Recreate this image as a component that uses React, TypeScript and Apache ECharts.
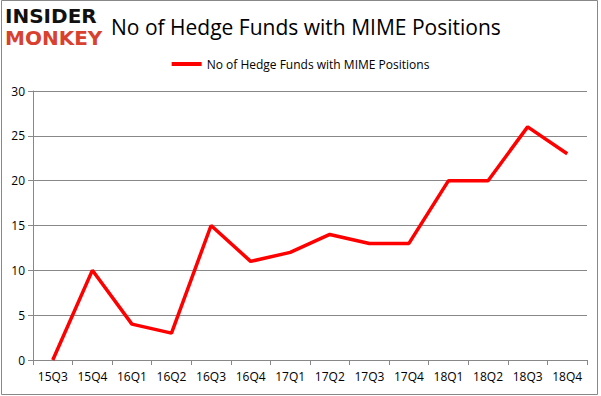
import React, { useEffect, useRef } from "react";
import * as echarts from "echarts";

const categories = ["15Q3", "15Q4", "16Q1", "16Q2", "16Q3", "16Q4", "17Q1", "17Q2", "17Q3", "17Q4", "18Q1", "18Q2", "18Q3", "18Q4"];
const hedgeFunds = [0, 10, 4, 3, 15, 11, 12, 14, 13, 13, 20, 20, 26, 23];
const seriesName = "No of Hedge Funds with MIME Positions";
const titleText = "No of Hedge Funds with MIME Positions";

export default function App() {
  const ref = useRef<HTMLDivElement>(null);
  useEffect(() => {
    const chart = echarts.init(ref.current!, null, { renderer: "svg" });
    const font = "'Open Sans', 'Noto Sans', sans-serif";
    chart.setOption({
      animation: false,
      backgroundColor: "#ffffff",
      title: {
        text: titleText,
        left: 106,
        top: 11,
        textStyle: { fontSize: 21, fontWeight: "normal", color: "#000", fontFamily: font },
      },
      legend: {
        top: 53,
        left: "center",
        itemWidth: 30,
        itemHeight: 4,
        icon: "rect",
        textStyle: { fontSize: 12, color: "#000", fontFamily: font },
        data: [{ name: seriesName, itemStyle: { color: "#ff0000" } }],
      },
      grid: { left: 33, right: 14, top: 91, bottom: 36 },
      xAxis: {
        type: "category",
        data: categories,
        boundaryGap: true,
        axisLine: { lineStyle: { color: "#888", width: 1 } },
        axisTick: { show: true, alignWithLabel: false, length: 5, lineStyle: { color: "#888" } },
        axisLabel: { color: "#000", fontSize: 12, fontFamily: font, margin: 10, interval: 0 },
      },
      yAxis: {
        type: "value",
        min: 0,
        max: 30,
        interval: 5,
        axisLine: { show: true, lineStyle: { color: "#888", width: 1 } },
        axisTick: { show: true, length: 5, lineStyle: { color: "#888" } },
        splitLine: { show: true, lineStyle: { color: "#888", width: 1 } },
        axisLabel: { color: "#000", fontSize: 12, fontFamily: font, margin: 8 },
      },
      series: [
        {
          name: seriesName,
          type: "line",
          data: hedgeFunds,
          symbol: "none",
          lineStyle: { color: "#ff0000", width: 3.5 },
          itemStyle: { color: "#ff0000" },
        },
      ],
      graphic: [
        {
          type: "rect",
          shape: { x: 1.5, y: 0.5, width: 596, height: 394 },
          style: { fill: "none", stroke: "#888", lineWidth: 1 },
          silent: true,
        },
        {
          type: "text",
          left: 5,
          top: 6,
          style: {
            text: "{a|INSIDER}\n{b|MONKEY}",
            rich: {
              a: { fill: "#111", font: "900 20px 'DejaVu Sans', sans-serif", lineHeight: 22 },
              b: { fill: "#d9412f", font: "900 20px 'DejaVu Sans', sans-serif", lineHeight: 22 },
            },
          },
        },
      ],
    });
    return () => chart.dispose();
  }, []);
  return <div ref={ref} style={{ position: "fixed", left: 0, top: 0, width: 601, height: 396 }} />;
}
